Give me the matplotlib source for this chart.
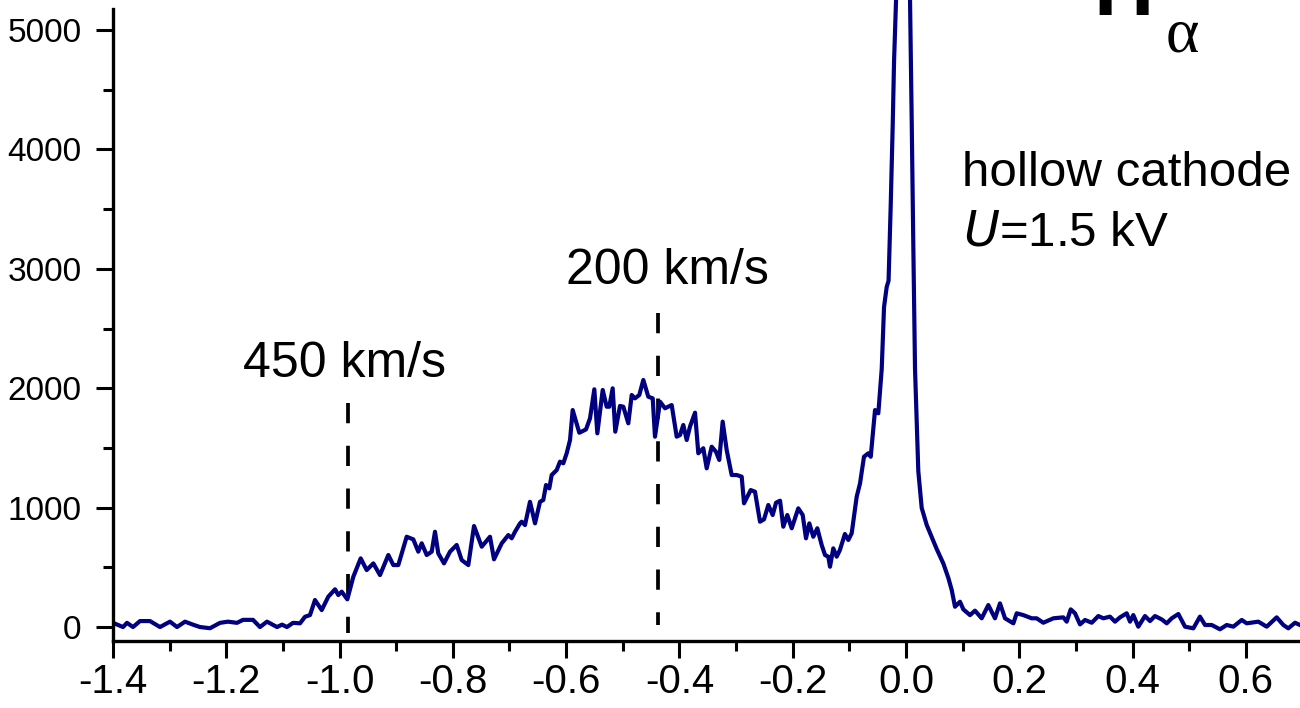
import matplotlib
matplotlib.use("Agg")
import matplotlib.pyplot as plt
from matplotlib.ticker import MultipleLocator, FuncFormatter

plt.rcParams['font.family'] = ['Liberation Sans', 'DejaVu Sans']
plt.rcParams['axes.unicode_minus'] = False

# ---- data ----
wavelength_shift = [
    -1.4000, -1.3823, -1.3753, -1.3647, -1.3523, -1.3347, -1.3170, -1.2994, -1.2870, -1.2729,
    -1.2588, -1.2464, -1.2287, -1.2111, -1.1970, -1.1811, -1.1705, -1.1528, -1.1405, -1.1281,
    -1.1104, -1.1016, -1.0928, -1.0822, -1.0698, -1.0610, -1.0522, -1.0434, -1.0315, -1.0199,
    -1.0080, -1.0022, -0.9962, -0.9863, -0.9757, -0.9627, -0.9521, -0.9404, -0.9286, -0.9139,
    -0.9051, -0.8963, -0.8815, -0.8698, -0.8610, -0.8550, -0.8461, -0.8373, -0.8315, -0.8257,
    -0.8156, -0.8050, -0.7932, -0.7844, -0.7727, -0.7626, -0.7490, -0.7344, -0.7273, -0.7137,
    -0.7020, -0.6961, -0.6902, -0.6814, -0.6784, -0.6726, -0.6638, -0.6549, -0.6461, -0.6403,
    -0.6355, -0.6297, -0.6255, -0.6166, -0.6108, -0.6050, -0.5990, -0.5931, -0.5884, -0.5767,
    -0.5649, -0.5578, -0.5502, -0.5449, -0.5354, -0.5284, -0.5238, -0.5178, -0.5132, -0.5049,
    -0.4990, -0.4902, -0.4842, -0.4784, -0.4708, -0.4637, -0.4549, -0.4471, -0.4431, -0.4342,
    -0.4254, -0.4196, -0.4136, -0.4048, -0.3989, -0.3931, -0.3871, -0.3813, -0.3724, -0.3666,
    -0.3578, -0.3518, -0.3430, -0.3354, -0.3296, -0.3236, -0.3165, -0.3077, -0.2988, -0.2900,
    -0.2859, -0.2741, -0.2665, -0.2577, -0.2506, -0.2430, -0.2353, -0.2294, -0.2223, -0.2166,
    -0.2095, -0.2017, -0.1901, -0.1823, -0.1765, -0.1706, -0.1636, -0.1565, -0.1488, -0.1429,
    -0.1371, -0.1341, -0.1283, -0.1223, -0.1166, -0.1078, -0.1018, -0.0958, -0.0870, -0.0811,
    -0.0741, -0.0665, -0.0622, -0.0546, -0.0488, -0.0428, -0.0387, -0.0340, -0.0307, -0.0269,
    -0.0233, -0.0210, -0.0175, -0.0140, -0.0052, 0.0037, 0.0072, 0.0102, 0.0130, 0.0160,
    0.0218, 0.0278, 0.0367, 0.0455, 0.0543, 0.0660, 0.0749, 0.0808, 0.0866, 0.0954,
    0.1013, 0.1131, 0.1219, 0.1337, 0.1454, 0.1572, 0.1660, 0.1749, 0.1896, 0.1955,
    0.2072, 0.2220, 0.2308, 0.2425, 0.2602, 0.2778, 0.2838, 0.2909, 0.2985, 0.3073,
    0.3161, 0.3280, 0.3396, 0.3485, 0.3602, 0.3691, 0.3779, 0.3897, 0.3956, 0.4014,
    0.4102, 0.4220, 0.4309, 0.4397, 0.4515, 0.4604, 0.4692, 0.4809, 0.4927, 0.5074,
    0.5191, 0.5280, 0.5398, 0.5544, 0.5663, 0.5780, 0.5928, 0.6016, 0.6221, 0.6369,
    0.6545, 0.6663, 0.6751, 0.6869, 0.6957,
]
intensity = [
    35, 0, 35, 0, 50, 50, 0, 45, 0, 45,
    20, 0, -10, 35, 45, 35, 60, 60, 0, 45,
    0, 20, 0, 35, 31, 86, 100, 226, 142, 254,
    316, 268, 296, 232, 421, 575, 477, 533, 435, 603,
    519, 519, 756, 734, 631, 701, 603, 631, 798, 617,
    533, 631, 687, 561, 519, 846, 673, 756, 567, 701,
    770, 743, 798, 868, 882, 854, 1049, 868, 1049, 1064,
    1189, 1161, 1273, 1315, 1385, 1371, 1455, 1566, 1817, 1627,
    1655, 1748, 1991, 1622, 1985, 1845, 1845, 1999, 1636, 1851,
    1845, 1706, 1943, 1915, 1943, 2069, 1929, 1915, 1594, 1887,
    1832, 1845, 1859, 1594, 1608, 1692, 1566, 1678, 1795, 1455,
    1497, 1329, 1510, 1468, 1399, 1720, 1482, 1273, 1273, 1259,
    1036, 1147, 1133, 882, 902, 1022, 938, 1041, 1058, 840,
    938, 827, 994, 938, 743, 868, 756, 827, 687, 603,
    589, 505, 659, 589, 645, 779, 729, 785, 1091, 1203,
    1426, 1455, 1426, 1817, 1790, 2161, 2680, 2848, 2900, 3534,
    4221, 4740, 5250, 5700, 6100, 5700, 5250, 4221, 3191, 2161,
    1306, 997, 854, 754, 653, 532, 410, 310, 170, 212,
    148, 100, 137, 73, 184, 73, 198, 73, 31, 115,
    100, 73, 73, 36, 73, 81, 45, 148, 115, 22,
    59, 36, 92, 73, 87, 45, 81, 115, 45, 100,
    3, 92, 50, 92, 64, 31, 73, 109, 3, -11,
    87, 17, 17, -19, 17, 3, 59, 31, 45, 3,
    81, 17, -11, 36, 17,
]

marker_shifts = [-0.985, -0.437]
marker_tops = [1876, 2630]
marker_bottoms = [-50, 17]
marker_labels = ['450 km/s', '200 km/s']

x_ticks_major = 0.2
x_ticks_minor = 0.1
y_ticks_major = 1000
y_ticks_minor = 500

# ---- figure ----
W, H = 1300, 708
fig = plt.figure(figsize=(W / 100, H / 100), dpi=100)

def fx(px):
    return px / W

def fy(py):
    return 1 - py / H

ax = fig.add_axes([fx(113), fy(641), 1 - fx(113), fy(0) - fy(641)])
ax.set_xlim(-1.4, 0.6957)
ax.set_ylim(-117, 5251)

for xs, yt, yb in zip(marker_shifts, marker_tops, marker_bottoms):
    ax.plot([xs, xs], [yt, yb], color='black', lw=2.7,
            linestyle=(0, (5.4, 6.0)), solid_capstyle='butt')

ax.plot(wavelength_shift, intensity, color='#000080', lw=3.0,
        solid_joinstyle='round')

for s in ['top', 'right']:
    ax.spines[s].set_visible(False)
for s in ['left', 'bottom']:
    ax.spines[s].set_linewidth(2.4)
ax.spines['left'].set_bounds(-117, 5176)

ax.xaxis.set_major_locator(MultipleLocator(x_ticks_major))
ax.xaxis.set_minor_locator(MultipleLocator(x_ticks_minor))
ax.yaxis.set_major_locator(MultipleLocator(y_ticks_major))
ax.yaxis.set_minor_locator(MultipleLocator(y_ticks_minor))

def xfmt(v, pos):
    if abs(v) < 1e-9:
        v = 0.0
    return f'{v:.1f}'

ax.xaxis.set_major_formatter(FuncFormatter(xfmt))
ax.yaxis.set_major_formatter(FuncFormatter(lambda v, p: f'{int(round(v))}'))

ax.tick_params(which='major', direction='out', length=12.5, width=2.2)
ax.tick_params(which='minor', direction='out', length=7.5, width=2.2)
ax.tick_params(axis='x', which='major', labelsize=29, pad=3)
ax.tick_params(axis='y', which='major', labelsize=24, pad=10)

# ---- annotations ----
fs = 36
fig.text(fx(243), fy(377), marker_labels[0], fontsize=fs, ha='left', va='baseline')
fig.text(fx(566), fy(284), marker_labels[1], fontsize=fs, ha='left', va='baseline')
fig.text(fx(962), fy(186), 'hollow cathode', fontsize=35.5, ha='left', va='baseline')
fig.text(fx(963), fy(245), r'$\mathit{U}$=1.5 kV', fontsize=35.5, ha='left', va='baseline')
fig.text(fx(1093), fy(15), 'H', fontsize=60, fontweight='bold', ha='left', va='baseline')
fig.text(fx(1166), fy(51), 'α', fontsize=46, family=['Liberation Serif', 'DejaVu Serif'],
         ha='left', va='baseline')

fig.savefig('out.png', dpi=100)
